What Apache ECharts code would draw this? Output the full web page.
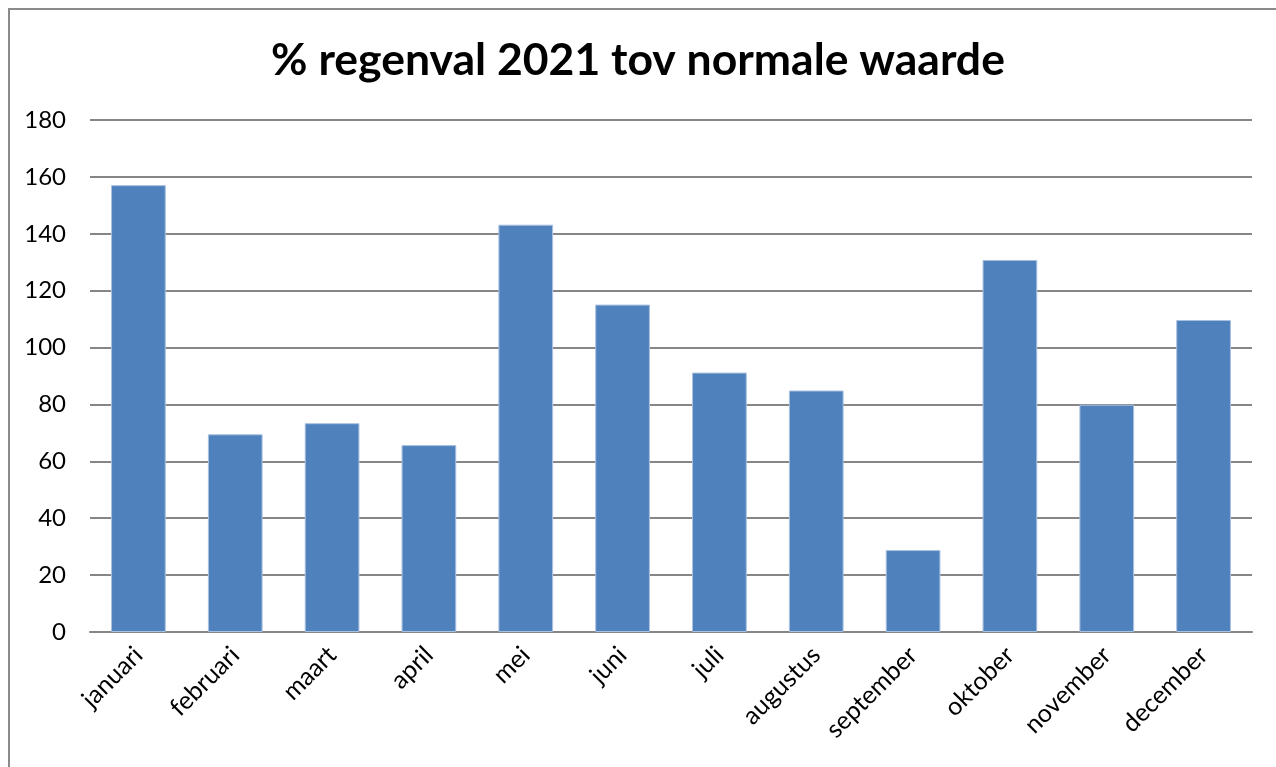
<!DOCTYPE html>
<html>
<head>
    <meta charset="UTF-8">
    <title>% regenval 2021 tov normale waarde</title>
    <style>
        body { margin: 0; background: #fff; }
        #frame { position: absolute; left: 8px; top: 8px; width: 1300px; height: 800px;
                 border-left: 2px solid #8a8a8a; border-top: 2px solid #8a8a8a; }
        #main { position: absolute; left: 0; top: 0; width: 1276px; height: 767px; }
    </style>
</head>
<body>
<div id="frame"></div>
<div id="main"></div>
<script src="https://cdn.jsdelivr.net/npm/echarts@6/dist/echarts.min.js"></script>
<script>
    // maanden en percentages t.o.v. normaal
    var maanden = ['januari', 'februari', 'maart', 'april', 'mei', 'juni',
                   'juli', 'augustus', 'september', 'oktober', 'november', 'december'];
    var percentages = [157.1, 69.5, 73.4, 65.7, 143.2, 115.1, 91.2, 84.9, 28.8, 130.8, 79.9, 109.7];
    var yTicks = [0, 20, 40, 60, 80, 100, 120, 140, 160, 180];

    var myChart = echarts.init(document.getElementById('main'));
    var font = 'Lato, "Open Sans", sans-serif';
    var option = {
        animation: false,
        title: {
            text: '% regenval 2021 tov normale waarde',
            left: 'center',
            top: 33,
            textStyle: { fontFamily: font, fontSize: 44.5, fontWeight: 'bold', color: '#000' }
        },
        grid: { left: 90, right: 24, top: 120, bottom: 135, containLabel: false },
        xAxis: {
            type: 'category',
            data: maanden,
            axisLine: { show: true, lineStyle: { color: '#868686', width: 2 } },
            axisTick: { show: false },
            axisLabel: {
                interval: 0,
                rotate: 45,
                margin: 19,
                fontFamily: font,
                fontSize: 25,
                color: '#000'
            }
        },
        yAxis: {
            type: 'value',
            min: yTicks[0],
            max: yTicks[yTicks.length - 1],
            interval: 20,
            axisLine: { show: false },
            axisTick: { show: false },
            axisLabel: { margin: 24, fontFamily: font, fontSize: 24, color: '#000' },
            splitLine: { lineStyle: { color: '#868686', width: 2 } }
        },
        series: [{
            type: 'bar',
            data: percentages,
            barWidth: '56.5%',
            itemStyle: { color: '#4f81bd', borderColor: '#a9c1e0', borderWidth: 1 }
        }]
    };
    myChart.setOption(option);
</script>
</body>
</html>
